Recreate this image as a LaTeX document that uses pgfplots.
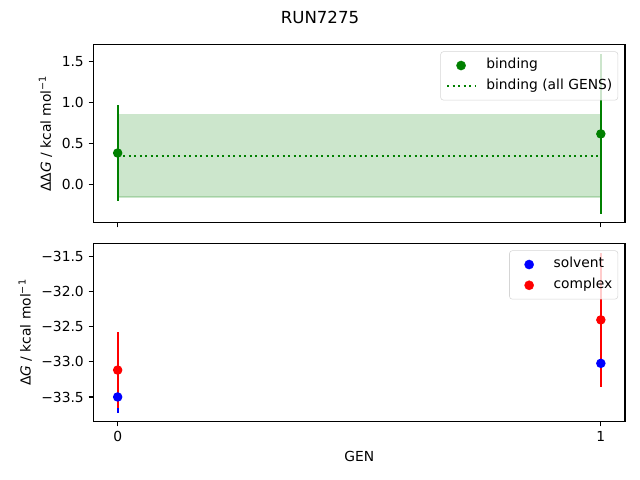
\documentclass[border=0pt]{standalone}
\usepackage{pgfplots}
\pgfplotsset{compat=1.18}
\usepackage{fontspec}
\setmainfont{DejaVu Sans}
\definecolor{mplgreen}{RGB}{0,128,0}
\definecolor{legframe}{gray}{0.8}

\pgfplotsset{
  mplaxis/.style={
    scale only axis, width=5.315in, height=1.78in,
    xmin=-0.05, xmax=1.05, xtick={0,1},
    tick align=outside, major tick length=3.5pt,
    every tick/.style={black, line width=0.8pt},
    axis line style={line width=0.8pt},
    tick pos=left,
    ticklabel style={font=\fontsize{10}{12}\selectfont},
    label style={font=\fontsize{10}{12}\selectfont},
    legend cell align=left,
    legend style={at={(1,1)}, anchor=north east, xshift=-5pt, yshift=-5pt,
      draw=legframe, rounded corners=2pt, fill=white, fill opacity=0.8,
      draw opacity=0.8, text opacity=1, font=\fontsize{10}{12}\selectfont,
      inner xsep=4pt, inner ysep=5pt, row sep=5pt, column sep=7.5pt,
      nodes={inner sep=0pt, text height=7.5pt, text depth=2.5pt}},
  },
  ebar/.style={forget plot, draw=none, mark=none,
    error bars/.cd, y dir=both, y explicit, error mark=none,
    error bar style={line width=1.5pt, draw=#1, solid}},
  dots/.style={forget plot, only marks, mark=*, mark size=3pt, color=#1,
    mark options={solid, line width=0.8pt, draw=#1, fill=#1}},
}

\newcommand{\dotimage}[1]{\addlegendimage{legend image code/.code={
  \path (0pt,0pt) (20pt,0pt);
  \fill[#1, fill opacity=1] (10pt,0pt) circle (3.3pt);}}}

\begin{document}
\begin{tikzpicture}
\useasboundingbox (0,0) rectangle (6.4in,4.8in);
\node[font=\fontsize{12}{14}\selectfont] at (3.2in,4.63in) {RUN7275};

% top: binding free energy
\begin{axis}[mplaxis, at={(0.935in,2.575in)}, anchor=south west,
  ymin=-0.47, ymax=1.71,
  ytick={0,0.5,1,1.5}, yticklabels={0.0,0.5,1.0,1.5},
  xticklabels={},
  ylabel={ΔΔ\textit{G} / kcal mol\textsuperscript{−1}}]
\addplot[forget plot, fill=mplgreen, fill opacity=0.2, draw=mplgreen, draw opacity=0.2, line width=1pt]
  coordinates {(0,-0.160) (1,-0.160) (1,0.849) (0,0.849)} -- cycle;
\addplot[forget plot, mplgreen, line width=1.5pt, dash pattern=on 1.5pt off 2.475pt]
  coordinates {(0,0.345) (1,0.345)};
\addplot[ebar=mplgreen] table[x=x, y=y, y error=e] {
x y e
0 0.381 0.587
1 0.615 0.984
};
\addplot[dots=mplgreen] table[x=x, y=y] {
x y
0 0.381
1 0.615
};
\dotimage{mplgreen}
\addlegendentry{binding}
\addlegendimage{legend image code/.code={
  \draw[mplgreen, draw opacity=1, line width=1.5pt, dash pattern=on 1.5pt off 2.475pt] (0pt,0pt) -- (20pt,0pt);}}
\addlegendentry{binding (all GENS)}
\end{axis}

% bottom: solvent and complex
\begin{axis}[mplaxis, at={(0.935in,0.585in)}, anchor=south west,
  ymin=-33.85, ymax=-31.31,
  ytick={-33.5,-33,-32.5,-32,-31.5},
  yticklabels={−33.5,−33.0,−32.5,−32.0,−31.5},
  xticklabels={0,1},
  xlabel={GEN},
  ylabel={Δ\textit{G} / kcal mol\textsuperscript{−1}}]
\addplot[ebar=blue] table[x=x, y=y, y error=e] {
x y e
0 -33.50 0.23
1 -33.02 0.20
};
\addplot[ebar=red] table[x=x, y=y, y error=e] {
x y e
0 -33.116 0.545
1 -32.40 0.96
};
\addplot[dots=blue] table[x=x, y=y] {
x y
0 -33.50
1 -33.02
};
\addplot[dots=red] table[x=x, y=y] {
x y
0 -33.116
1 -32.40
};
\dotimage{blue}
\addlegendentry{solvent}
\dotimage{red}
\addlegendentry{complex}
\end{axis}
\end{tikzpicture}
\end{document}
